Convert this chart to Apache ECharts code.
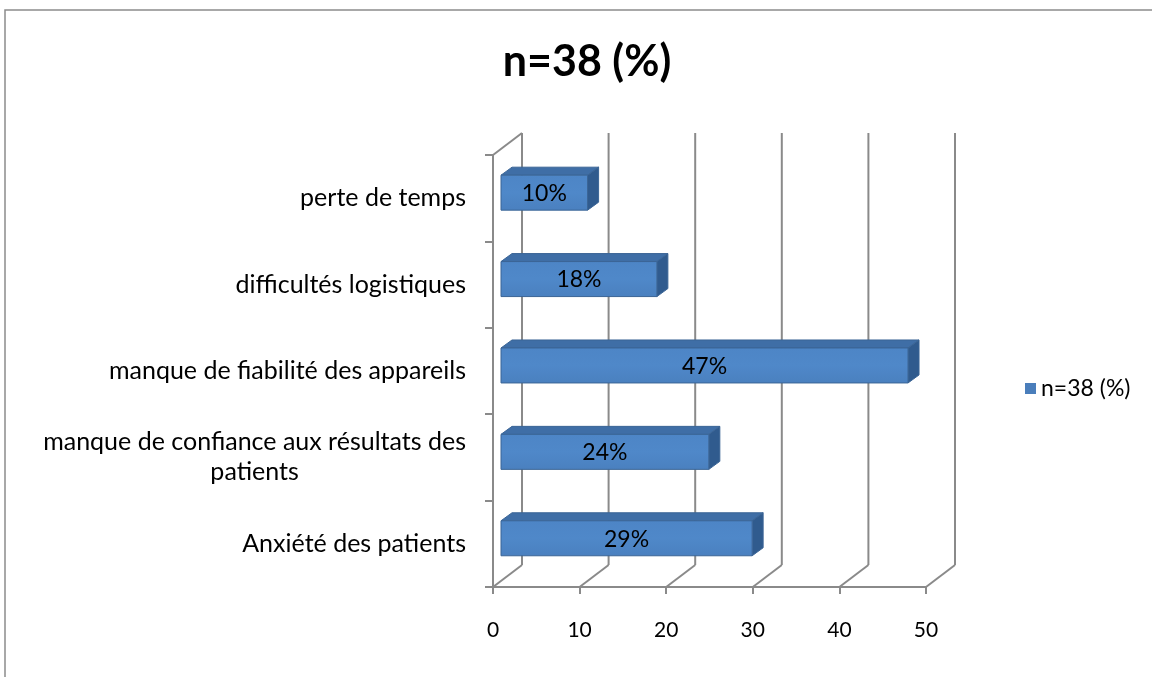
<!DOCTYPE html>
<html>
<head>
<meta charset="utf-8">
<script src="https://cdn.jsdelivr.net/npm/echarts@6/dist/echarts.min.js"></script>
<style>
  html, body { margin: 0; padding: 0; background: #fff; }
  #chart { width: 1152px; height: 677px; }
</style>
</head>
<body>
<div id="chart"></div>
<script>
// données (de bas en haut, comme l'axe des catégories)
var categories = [
  'Anxiété des patients',
  'manque de confiance aux résultats des\npatients',
  'manque de fiabilité des appareils',
  'difficultés logistiques',
  'perte de temps'
];
var values = [29, 24, 47, 18, 10];
var xTicks = [0, 10, 20, 30, 40, 50];
var seriesName = 'n=38 (%)';

var FONT = 'Lato';
var GRID_COLOR = '#8a8a8a';
var DEPTH_X = 29, DEPTH_Y = -22;   // décalage du mur du fond
var BAR_DX = 11, BAR_DY = -8;      // profondeur des barres

// largeur d'une ligne de texte, pour centrer l'étiquette sur deux lignes
function textWidth(str, size) {
  var c = document.createElement('canvas').getContext('2d');
  c.font = size + 'px ' + FONT;
  return c.measureText(str).width;
}
var LABEL_SIZE = 25;
var VALUE_SIZE = 23;

var chart = echarts.init(document.getElementById('chart'));

var option = {
  textStyle: { fontFamily: FONT },
  animation: false,
  title: {
    text: seriesName,
    left: 582,
    textAlign: 'center',
    top: 36,
    textStyle: { fontSize: 43, fontWeight: 'bold', color: '#000', fontFamily: FONT }
  },
  legend: {
    orient: 'vertical',
    left: 1020,
    top: 372,
    itemWidth: 11,
    itemHeight: 11,
    itemGap: 6,
    icon: 'rect',
    textStyle: { fontSize: 23, color: '#000' },
    data: [seriesName]
  },
  graphic: [{
    type: 'rect',
    shape: { x: 5, y: 10, width: 1300, height: 800 },
    style: { fill: 'none', stroke: '#8c8c8c', lineWidth: 1.5 },
    silent: true
  }],
  grid: { left: 493, top: 155, width: 433, height: 432 },
  xAxis: {
    type: 'value',
    min: 0,
    max: 50,
    interval: 10,
    axisLine: { show: true, lineStyle: { color: GRID_COLOR, width: 2 } },
    axisTick: { show: true, length: 7, lineStyle: { color: GRID_COLOR, width: 2 } },
    axisLabel: { fontSize: 21, color: '#000', margin: 33 },
    splitLine: { show: false }
  },
  yAxis: {
    type: 'category',
    data: categories,
    axisLine: { show: true, lineStyle: { color: GRID_COLOR, width: 2 } },
    axisTick: { show: true, length: 8, lineStyle: { color: GRID_COLOR, width: 2 } },
    axisLabel: {
      fontSize: LABEL_SIZE,
      color: '#000',
      margin: 27,
      lineHeight: 30,
      formatter: function (val) {
        var lines = val.split('\n');
        if (lines.length === 1) return val;
        return lines.map(function (l) { return '{c|' + l + '}'; }).join('\n');
      },
      rich: {
        c: {
          fontSize: LABEL_SIZE, fontFamily: FONT, color: '#000', lineHeight: 30, align: 'center',
          width: textWidth('manque de confiance aux résultats des', LABEL_SIZE)
        }
      }
    }
  },
  series: [
    {
      // murs : quadrillage du fond et diagonales du sol
      type: 'custom',
      silent: true,
      z: 1,
      data: xTicks.map(function (v) { return [v, 0]; }),
      renderItem: function (params, api) {
        var cs = params.coordSys;
        var x = api.coord([api.value(0), 0])[0];
        var top = cs.y, bottom = cs.y + cs.height;
        var style = { stroke: GRID_COLOR, lineWidth: 2 };
        var children = [
          { type: 'line', shape: { x1: x + DEPTH_X, y1: top + DEPTH_Y, x2: x + DEPTH_X, y2: bottom + DEPTH_Y }, style: style },
          { type: 'line', shape: { x1: x, y1: bottom, x2: x + DEPTH_X, y2: bottom + DEPTH_Y }, style: style }
        ];
        if (params.dataIndex === 0) {
          children.push({ type: 'line', shape: { x1: x, y1: top, x2: x + DEPTH_X, y2: top + DEPTH_Y }, style: style });
        }
        return { type: 'group', children: children };
      }
    },
    {
      name: seriesName,
      type: 'custom',
      z: 5,
      itemStyle: { color: '#4a7ebb' },
      data: values.map(function (v, i) { return [v, i]; }),
      renderItem: function (params, api) {
        var v = api.value(0), i = api.value(1);
        var start = api.coord([0, i]);
        var end = api.coord([v, i]);
        var band = api.size([0, 1])[1];
        var h = band * 0.405;
        var cy = start[1] - band * 0.064;
        var x0 = start[0] + 8, x1 = end[0] + 8;
        var y0 = cy - h / 2, y1 = cy + h / 2;
        var edge = '#3b6596';
        return {
          type: 'group',
          children: [
            {
              type: 'polygon',
              shape: { points: [[x0, y0], [x0 + BAR_DX, y0 + BAR_DY], [x1 + BAR_DX, y0 + BAR_DY], [x1, y0]] },
              style: { fill: '#3f6ea6', stroke: edge, lineWidth: 1 }
            },
            {
              type: 'polygon',
              shape: { points: [[x1, y0], [x1 + BAR_DX, y0 + BAR_DY], [x1 + BAR_DX, y1 + BAR_DY], [x1, y1]] },
              style: { fill: '#305b8e', stroke: edge, lineWidth: 1 }
            },
            {
              type: 'rect',
              shape: { x: x0, y: y0, width: x1 - x0, height: h },
              style: {
                fill: new echarts.graphic.LinearGradient(0, 0, 0, 1, [
                  { offset: 0, color: '#4d85c6' },
                  { offset: 0.5, color: '#4f88c9' },
                  { offset: 1, color: '#4a80bf' }
                ]),
                stroke: edge, lineWidth: 1
              }
            },
            {
              type: 'text',
              style: {
                x: (x0 + x1) / 2, y: cy + 1,
                text: v + '%',
                fill: '#000',
                font: VALUE_SIZE + 'px ' + FONT,
                align: 'center', verticalAlign: 'middle'
              }
            }
          ]
        };
      }
    }
  ]
};

chart.setOption(option);
</script>
</body>
</html>
